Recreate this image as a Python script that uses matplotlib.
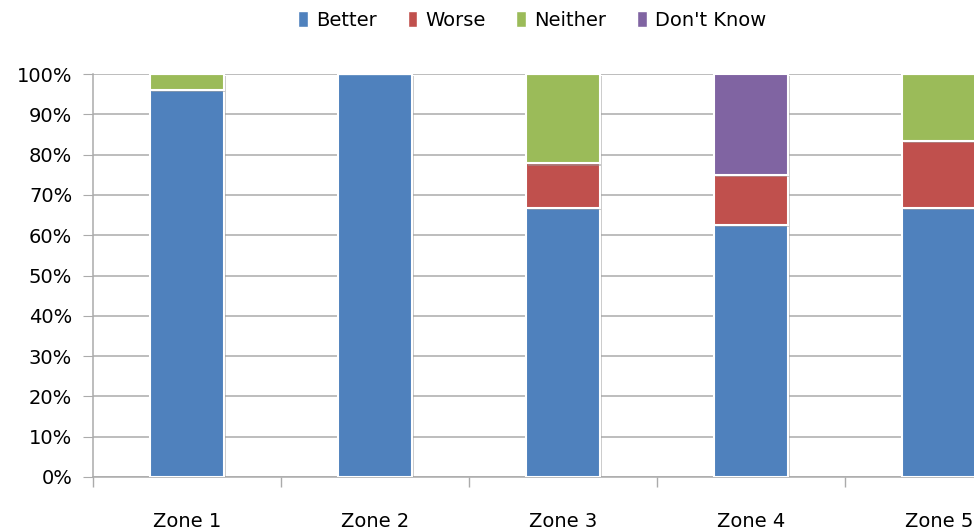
import matplotlib
matplotlib.use('Agg')
import matplotlib.pyplot as plt
import matplotlib.patheffects as pe
from matplotlib.ticker import PercentFormatter
from matplotlib.patches import Patch
import numpy as np

zones = ['Zone 1', 'Zone 2', 'Zone 3', 'Zone 4', 'Zone 5']
series = ['Better', 'Worse', 'Neither', "Don't Know"]
better = [96.0, 100.0, 66.7, 62.5, 66.7]
worse = [0.0, 0.0, 11.1, 12.5, 16.7]
neither = [4.0, 0.0, 22.2, 0.0, 16.6]
dont_know = [0.0, 0.0, 0.0, 25.0, 0.0]
colors = ['#4F81BD', '#C0504D', '#9BBB59', '#8064A2']

plt.rcParams['font.family'] = ['DejaVu Sans']

fig = plt.figure(figsize=(9.74, 5.31), dpi=100)
# axes run past the right edge, like the cropped original
ax = fig.add_axes([93 / 974, 1 - 477 / 531, 940 / 974, 403 / 531])

x = np.arange(len(zones))
bottom = np.zeros(len(zones))
shadow = [pe.SimplePatchShadow(offset=(1.5, -1.5), shadow_rgbFace='#999999', alpha=0.5), pe.Normal()]
for name, vals, c in zip(series, [better, worse, neither, dont_know], colors):
    vals = np.array(vals)
    bars = ax.bar(x, vals, 0.39, bottom=bottom, color=c, edgecolor='white',
                  linewidth=1.5, zorder=3)
    for b in bars:
        b.set_path_effects(shadow)
    bottom += vals

ax.set_xlim(-0.5, len(zones) - 0.5)
ax.set_ylim(0, 100)
ax.set_yticks(np.arange(0, 101, 10))
ax.yaxis.set_major_formatter(PercentFormatter(decimals=0))
ax.grid(axis='y', color='#ababab', linewidth=1.1, zorder=0)

ax.set_xticks(x)
ax.set_xticklabels(zones)
ax.set_xticks(np.arange(-0.5, len(zones), 1), minor=True)
ax.tick_params(axis='x', which='major', length=0, pad=25, labelsize=14)
ax.tick_params(axis='x', which='minor', length=7, color='#ababab', width=1)
ax.tick_params(axis='y', length=7, color='#ababab', labelsize=14, pad=8)

for s in ['top', 'right']:
    ax.spines[s].set_visible(False)
for s in ['left', 'bottom']:
    ax.spines[s].set_color('#ababab')
    ax.spines[s].set_linewidth(1.1)

handles = [Patch(facecolor=c, edgecolor='white') for c in colors]
fig.legend(handles, series, loc='center', bbox_to_anchor=(532 / 974, 1 - 20 / 531),
           ncol=4, frameon=False, fontsize=14, handlelength=0.5, handleheight=0.9,
           handletextpad=0.4, columnspacing=1.6)

fig.savefig('out.png', dpi=100)
